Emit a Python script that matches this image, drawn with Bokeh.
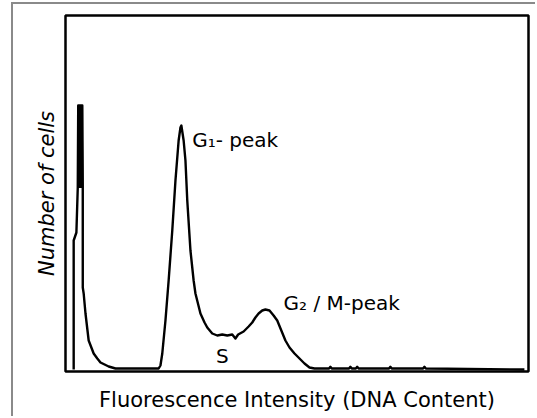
from bokeh.plotting import figure
from bokeh.models import Range1d, Label, FixedTicker
from bokeh.embed import file_html
from bokeh.resources import INLINE

# DNA histogram (channel, number of cells)
channel = [18, 18, 24, 27, 28, 37, 38, 38, 40, 44, 51, 62, 70, 77, 95, 110, 143, 176, 205,
           209, 213, 220, 227, 235, 242, 249, 253, 255, 260, 264, 268, 275, 282, 286,
           297, 306, 312, 323, 334, 345, 356, 367, 374, 380, 392, 403, 411, 418, 425,
           433, 440, 449, 458, 466, 475, 484, 493, 504, 515, 526, 537, 548, 570,
           580, 583, 586, 624, 627, 630, 639, 642, 645, 712, 715, 718, 787, 790, 793, 1010]
cells = [0, 387, 411, 546, 792, 792, 546, 246, 228, 168, 87, 48, 33, 21, 9, 3, 3, 3, 3,
         12, 48, 147, 267, 417, 567, 687, 726, 732, 687, 627, 507, 357, 267, 228,
         168, 141, 126, 108, 102, 105, 102, 105, 93, 105, 114, 129, 141, 156, 168,
         177, 180, 177, 162, 147, 117, 87, 66, 48, 33, 18, 6, 3, 3,
         3, 8, 3, 3, 8, 3, 3, 8, 3, 3, 8, 3, 3, 8, 3, 0]

x_title = "Fluorescence Intensity (DNA Content)"
y_title = "Number of cells"
peak_labels = ["G\u2081- peak", "G\u2082 / M-peak", "S"]
peak_x = [279, 480, 345]
peak_y = [690, 201, 42]

p = figure(width=524, height=414, output_backend="svg", toolbar_location=None,
           x_range=Range1d(0, 1019), y_range=Range1d(-6, 1062),
           min_border_left=52, min_border_right=9, min_border_top=11, min_border_bottom=47,
           title=None,
           styles={"margin-left": "11px", "margin-top": "2px",
                   "border-left": "2px solid #8a8a8a", "border-top": "2px solid #8a8a8a"})
p.grid.visible = False
p.outline_line_color = "black"
p.outline_line_width = 2.5
p.background_fill_color = "white"
p.border_fill_color = "white"

font = "DejaVu Sans"
for ax in (p.xaxis[0], p.yaxis[0]):
    ax.ticker = FixedTicker(ticks=[])
    ax.axis_line_color = None
    ax.major_tick_line_color = None
    ax.minor_tick_line_color = None
    ax.major_tick_out = 0
    ax.major_tick_in = 0
    ax.major_label_standoff = 0
    ax.axis_label_text_font = font
    ax.axis_label_text_color = "black"
p.xaxis.axis_label = x_title
p.xaxis.axis_label_text_font_size = "21px"
p.xaxis.axis_label_text_font_style = "normal"
p.xaxis.axis_label_standoff = 16
p.yaxis.axis_label = y_title
p.yaxis.axis_label_text_font_size = "21px"
p.yaxis.axis_label_text_font_style = "italic"
p.yaxis.axis_label_standoff = 7

# debris spike (dense, filled) and histogram outline
p.patch(channel[3:7], cells[3:7], fill_color="black", line_color="black", line_width=1)
p.line(channel, cells, line_color="black", line_width=2.4, line_join="round")

for t, x, y, sz, al in zip(peak_labels, peak_x, peak_y, ["20px", "20px", "20px"],
                           ["left", "left", "center"]):
    p.add_layout(Label(x=x, y=y, text=t, text_align=al, text_baseline="middle",
                       text_font=font, text_font_size=sz, text_color="black"))

open("out.html", "w").write(file_html(p, INLINE))
